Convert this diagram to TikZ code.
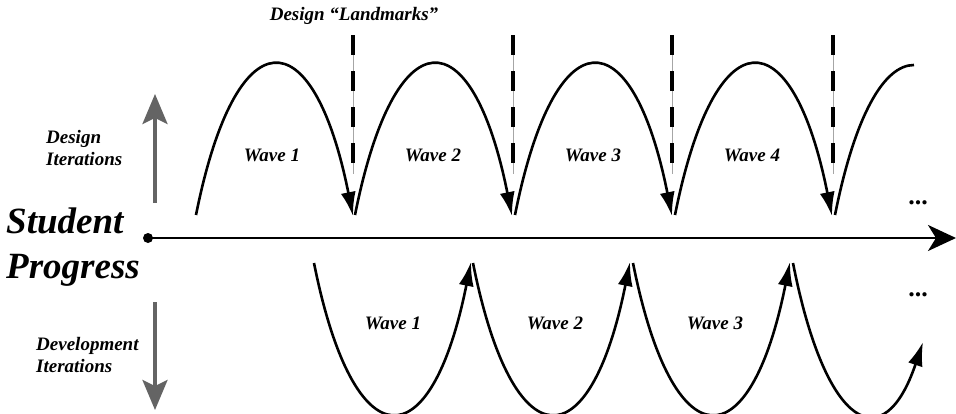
\documentclass[tikz,border=0pt]{standalone}
\usepackage{fontspec}
\setmainfont{Liberation Serif}
\usetikzlibrary{arrows.meta}
\definecolor{axgray}{RGB}{100,100,100}
\tikzset{
  lbl/.style={font=\fontsize{19}{22}\selectfont\bfseries\itshape, inner sep=0pt},
  wave/.style={line width=2.6pt, black},
  wavearrow/.style={wave, -{Latex[length=24pt,width=15pt]}},
  landmark/.style={line width=3.5pt, dash pattern=on 20pt off 16pt},
  guide/.style={line width=0.8pt, gray!70},
  grayarrow/.style={line width=3.3pt, axgray, -{Stealth[length=30pt,width=25pt,inset=6pt]}},
  dotsstyle/.style={font=\fontsize{26}{28}\selectfont\bfseries, inner sep=0pt}
}
\begin{document}
\begin{tikzpicture}[x=1pt,y=-1pt]
\useasboundingbox (0,0) rectangle (956,413);

% titles
\node[lbl] (landmarks) at (354,16) {Design “Landmarks”};
\node[lbl, font=\fontsize{37}{45}\selectfont\bfseries\itshape, align=left, anchor=west] (student) at (6,247) {Student\\Progress};
\node[lbl, align=left, anchor=west] (dit) at (46,148) {Design\\Iterations};
\node[lbl, align=left, anchor=west] (devit) at (36,355) {Development\\Iterations};

% gray arrows
\coordinate (upS) at (155,203);
\coordinate (upE) at (155,94);
\coordinate (dnS) at (155,302);
\coordinate (dnE) at (155,410);
\draw[grayarrow] (upS) -- (upE);
\draw[grayarrow] (dnS) -- (dnE);

% main axis
\coordinate (origin) at (148,238);
\coordinate (axend) at (956,238);
\draw[line width=2.6pt, -{Stealth[length=28pt,width=26pt,inset=8pt]}] (origin) -- (axend);
\fill (origin) circle (5pt);

% landmark dashed lines
\foreach \x [count=\i] in {353,513,672,833} {
  \coordinate (lmT\i) at (\x,35);
  \coordinate (lmB\i) at (\x,174);
  \draw[guide] (lmT\i) -- (lmB\i);
  \draw[landmark] (lmT\i) -- (lmB\i);
}

% top (design) waves
\foreach \x [count=\i] in {196,355,515,675} {
  \coordinate (tS\i) at (\x,215);
  \coordinate (tE\i) at (\x+157,216);
  \draw[wavearrow] (tS\i) .. controls +(40,-200) and +(-40,-200) .. (tE\i);
}
\coordinate (tS5) at (835,215);
\coordinate (tE5) at (914,65);
\draw[wave] (tS5) .. controls (855,115) and (884,65) .. (tE5);

% bottom (development) waves
\foreach \x [count=\i] in {314,473,633} {
  \coordinate (bS\i) at (\x,263);
  \coordinate (bE\i) at (\x+157,262);
  \draw[wavearrow] (bS\i) .. controls +(40,200) and +(-40,200) .. (bE\i);
}
\coordinate (bS4) at (793,263);
\coordinate (bE4) at (923,342);
\draw[wavearrow] (bS4) .. controls (826,431) and (884,458) .. (bE4);

% wave labels
\node[lbl] (tw1) at (272,155) {Wave 1};
\node[lbl] (tw2) at (433,155) {Wave 2};
\node[lbl] (tw3) at (593,155) {Wave 3};
\node[lbl] (tw4) at (752,155) {Wave 4};
\node[lbl] (bw1) at (393,323) {Wave 1};
\node[lbl] (bw2) at (555,323) {Wave 2};
\node[lbl] (bw3) at (715,323) {Wave 3};

% ellipses
\node[dotsstyle] (dotsT) at (918,203) {...};
\node[dotsstyle] (dotsB) at (918,295) {...};
\end{tikzpicture}
\end{document}
